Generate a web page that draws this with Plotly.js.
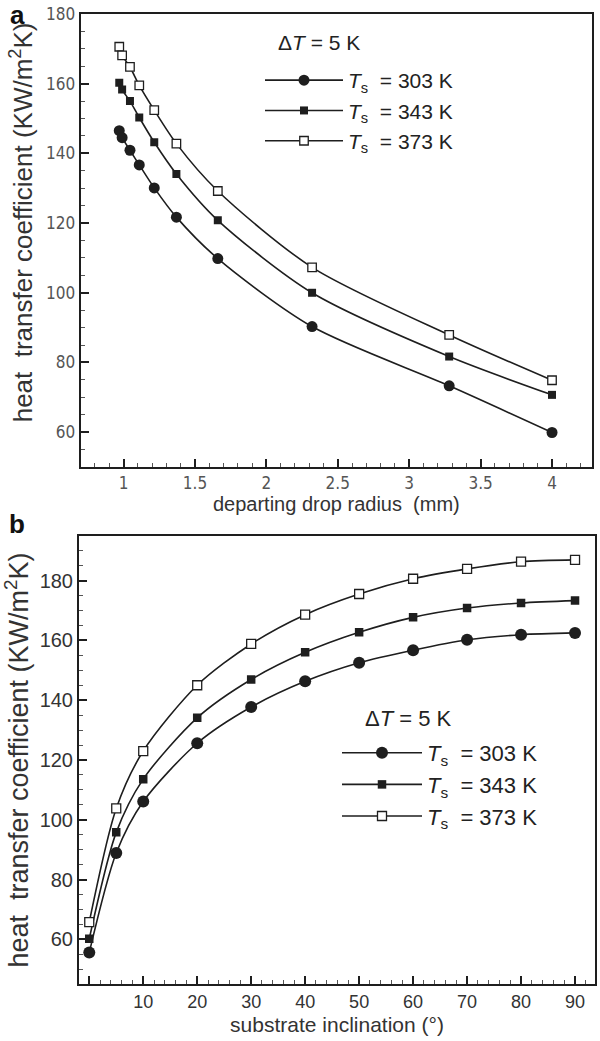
<!DOCTYPE html>
<html>
<head>
<meta charset="utf-8">
<script src="https://cdn.plot.ly/plotly-3.0.1.min.js"></script>
<style>html,body{margin:0;padding:0;background:#fff;}#chart{width:600px;height:1041px;}</style>
</head>
<body>
<div id="chart"></div>
<script>
// ---- Panel a: departing drop radius (mm) ----
const radiusMM = [0.97, 0.99, 1.045, 1.11, 1.215, 1.37, 1.66, 2.32, 3.28, 4.0];
const htcA_303 = [146.5, 144.5, 140.9, 136.7, 130.1, 121.7, 109.8, 90.3, 73.3, 59.9];
const htcA_343 = [160.3, 158.3, 155.0, 150.3, 143.2, 134.1, 120.8, 100.0, 81.7, 70.7];
const htcA_373 = [170.6, 168.1, 164.8, 159.5, 152.4, 142.8, 129.2, 107.3, 87.9, 74.9];

// ---- Panel b: substrate inclination (deg) ----
const inclination = [0, 5, 10, 20, 30, 40, 50, 60, 70, 80, 90];
const htcB_303 = [55.6, 88.9, 106.1, 125.6, 137.7, 146.3, 152.5, 156.7, 160.2, 161.9, 162.5];
const htcB_343 = [60.2, 95.8, 113.6, 134.1, 146.9, 156.0, 162.7, 167.7, 170.8, 172.5, 173.3];
const htcB_373 = [65.8, 103.8, 123.0, 145.0, 158.8, 168.6, 175.5, 180.6, 183.9, 186.3, 186.9];

const seriesNames = ['<i>T</i><sub>s</sub>&nbsp;&nbsp;= 303 K', '<i>T</i><sub>s</sub>&nbsp;&nbsp;= 343 K', '<i>T</i><sub>s</sub>&nbsp;&nbsp;= 373 K'];
const xTicksB = [0, 10, 20, 30, 40, 50, 60, 70, 80, 90];
const xTickTextB = ['', '10', '20', '30', '40', '50', '60', '70', '80', '90'];

const INK = '#1e1e1e';
const lineStyle = {color: INK, width: 1.6, shape: 'spline', smoothing: 0.8};

function mk(x, y, name, kind, size, xa, ya, leg, grp) {
  const open = kind === 'open';
  return {
    x: x, y: y, name: name, type: 'scatter', mode: 'lines+markers',
    xaxis: xa, yaxis: ya, legend: leg, legendgroup: grp,
    line: lineStyle,
    marker: {symbol: kind === 'circle' ? 'circle' : 'square', size: size,
             color: open ? '#ffffff' : INK,
             line: {color: INK, width: open ? 1.3 : 0}}
  };
}

const traces = [
  mk(radiusMM, htcA_303, seriesNames[0], 'circle', 11, 'x', 'y', 'legend', 'a1'),
  mk(radiusMM, htcA_343, seriesNames[1], 'square', 8, 'x', 'y', 'legend', 'a2'),
  mk(radiusMM, htcA_373, seriesNames[2], 'open', 8.5, 'x', 'y', 'legend', 'a3'),
  mk(inclination, htcB_303, seriesNames[0], 'circle', 12, 'x2', 'y2', 'legend2', 'b1'),
  mk(inclination, htcB_343, seriesNames[1], 'square', 8.5, 'x2', 'y2', 'legend2', 'b2'),
  mk(inclination, htcB_373, seriesNames[2], 'open', 9, 'x2', 'y2', 'legend2', 'b3')
];

const FONT = 'Liberation Sans, Arial, Helvetica, sans-serif';
const NARROW = 'Liberation Sans Narrow, DejaVu Sans Condensed, Arial Narrow, sans-serif';

function axisBase() {
  return {
    showline: true, linecolor: INK, linewidth: 2, mirror: true,
    ticks: 'inside', ticklen: 8, tickwidth: 2, tickcolor: INK,
    showgrid: false, zeroline: false, automargin: false
  };
}

const W = 600, H = 1041;
const layout = {
  width: W, height: H,
  margin: {l: 0, r: 0, t: 0, b: 0},
  paper_bgcolor: '#fff', plot_bgcolor: '#fff',
  font: {family: FONT, color: INK},
  showlegend: true,
  xaxis: Object.assign(axisBase(), {
    domain: [80.7 / W, 592 / W], range: [0.7, 4.28], anchor: 'y',
    tickmode: 'linear', tick0: 1, dtick: 0.5,
    minor: {ticks: 'inside', ticklen: 4, tickwidth: 1, tickcolor: '#555', dtick: 0.1, tick0: 1},
    tickfont: {family: NARROW, size: 17, color: '#555'},
    title: {text: 'departing drop radius&nbsp;&nbsp;(mm)', font: {size: 20, color: '#333'}, standoff: 0}
  }),
  yaxis: Object.assign(axisBase(), {
    domain: [1 - 467 / H, 1 - 14 / H], range: [50, 180], anchor: 'x',
    tickmode: 'linear', tick0: 0, dtick: 20,
    minor: {ticks: 'inside', ticklen: 4, tickwidth: 1, tickcolor: '#555', dtick: 5, tick0: 0},
    tickfont: {family: NARROW, size: 17, color: '#555'},
    title: {text: '&nbsp;&nbsp;&nbsp;&nbsp;&nbsp;heat&nbsp;&nbsp;transfer coefficient (KW/m<sup>2</sup>K)', font: {size: 26, color: '#333'}, standoff: 6}
  }),
  xaxis2: Object.assign(axisBase(), {
    domain: [79 / W, 595 / W], range: [-1.9, 93.7], anchor: 'y2',
    tickmode: 'array', tickvals: xTicksB, ticktext: xTickTextB,
    minor: {ticks: 'inside', ticklen: 4, tickwidth: 1, tickcolor: '#555', dtick: 2, tick0: 0},
    tickfont: {family: FONT, size: 18, color: '#333'},
    title: {text: 'substrate inclination (°)', font: {size: 21, color: '#333'}, standoff: 6}
  }),
  yaxis2: Object.assign(axisBase(), {
    domain: [1 - 984.3 / H, 1 - 535.7 / H], range: [45, 195], anchor: 'x2',
    tickmode: 'linear', tick0: 0, dtick: 20,
    minor: {ticks: 'inside', ticklen: 4, tickwidth: 1, tickcolor: '#555', dtick: 5, tick0: 0},
    tickfont: {family: FONT, size: 20, color: '#333'},
    title: {text: 'heat&nbsp;&nbsp;transfer coefficient (KW/m<sup>2</sup>K)', font: {size: 27, color: '#333'}, standoff: 4}
  }),
  legend: {
    x: 260 / W, y: 1 - 60 / H, xanchor: 'left', yanchor: 'top',
    bgcolor: 'rgba(0,0,0,0)', borderwidth: 0,
    font: {family: FONT, size: 21, color: '#222'},
    itemwidth: 78, tracegroupgap: 1.5, traceorder: 'normal', itemclick: false
  },
  legend2: {
    x: 337 / W, y: 1 - 732 / H, xanchor: 'left', yanchor: 'top',
    bgcolor: 'rgba(0,0,0,0)', borderwidth: 0,
    font: {family: FONT, size: 22, color: '#222'},
    itemwidth: 80, tracegroupgap: 0, traceorder: 'normal', itemclick: false
  },
  annotations: [
    {text: '<b>a</b>', xref: 'paper', yref: 'paper', x: 17 / W, y: 1 - 15 / H,
     xanchor: 'center', yanchor: 'middle', showarrow: false, font: {size: 26, color: '#111'}},
    {text: '<b>b</b>', xref: 'paper', yref: 'paper', x: 17 / W, y: 1 - 524 / H,
     xanchor: 'center', yanchor: 'middle', showarrow: false, font: {size: 26, color: '#111'}},
    {text: 'Δ<i>T</i> = 5 K', xref: 'paper', yref: 'paper', x: 276 / W, y: 1 - 42 / H,
     xanchor: 'left', yanchor: 'middle', showarrow: false, font: {size: 21, color: '#222'}},
    {text: 'Δ<i>T</i> = 5 K', xref: 'paper', yref: 'paper', x: 363 / W, y: 1 - 718 / H,
     xanchor: 'left', yanchor: 'middle', showarrow: false, font: {size: 22, color: '#222'}}
  ]
};

Plotly.newPlot('chart', traces, layout, {displayModeBar: false, staticPlot: true});
</script>
</body>
</html>
